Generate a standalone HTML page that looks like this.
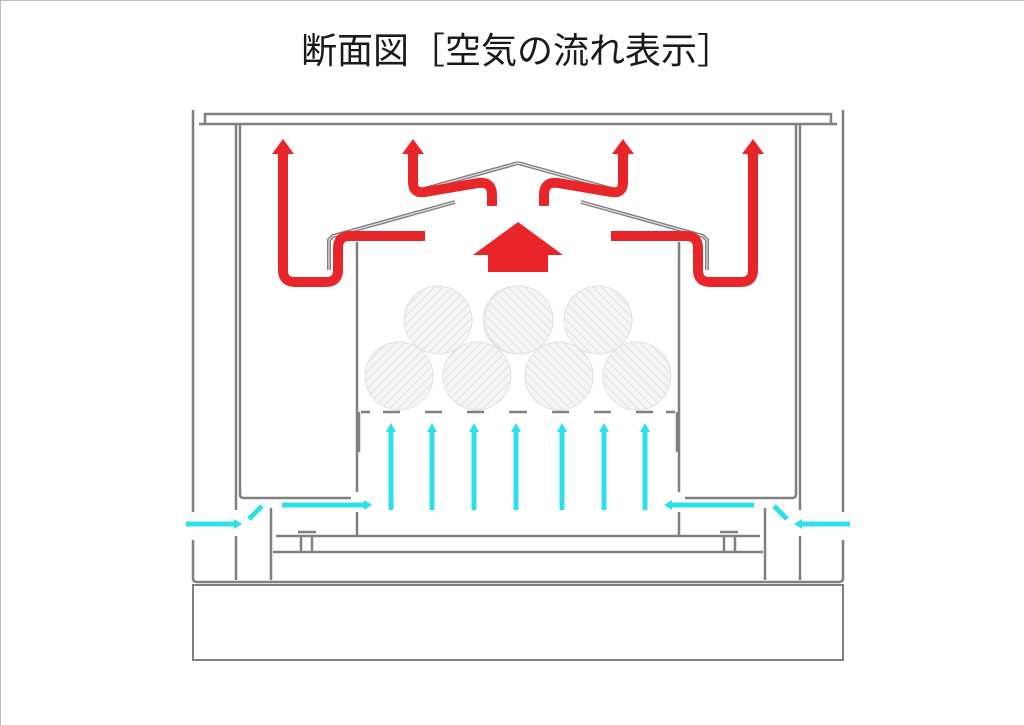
<!DOCTYPE html>
<html><head><meta charset="utf-8"><style>
html,body{margin:0;padding:0;background:#fff;}
svg{display:block}
</style></head><body>
<svg width="1024" height="725" viewBox="0 0 1024 725" xmlns="http://www.w3.org/2000/svg">
<defs>
<pattern id="h" width="6" height="6" patternUnits="userSpaceOnUse" patternTransform="rotate(45)">
<rect width="6" height="6" fill="#f4f4f4"/><line x1="0" y1="0" x2="0" y2="6" stroke="#dcdcdc" stroke-width="1.5"/>
</pattern>
<g id="half">
 <g fill="none" stroke="#808080" stroke-width="2.5">
  <path d="M193 110 V512"/>
  <path d="M193 540 V578 Q193 582 197 582 H518"/>
  <path d="M236 124 V510"/>
  <path d="M236 536 V580"/>
  <path d="M199 124 H518"/>
  <path d="M205 124 V114 H518"/>
  <path d="M240 124 V494 Q240 498 244 498 H351"/>
  <path d="M271 508 V580"/>
  <path d="M357 242 V492"/>
  <path d="M357 512 V535"/>
  <path d="M359 412 V452"/>
  <path d="M276 536 H518"/>
  <path d="M273 552 H518"/>
  <path d="M301 536 V552 M312 536 V552"/>
  <path d="M298 532 H316"/>
  <path d="M361 412 H370 M383 412 H400 M425 412 H442 M467 412 H484 M509 412 H518"/>
 </g>
 <g fill="none" stroke="#808080" stroke-width="4">
  <path d="M329 270 V240 L333 236 L455 202"/>
  <path d="M424 189 L518 163"/>
 </g>
 <g fill="none" stroke="#e0e0e0" stroke-width="1.2">
  <path d="M329 270 V240 L333 236 L455 202"/>
  <path d="M424 189 L518 163"/>
 </g>
 <g fill="url(#h)" stroke="#e2e2e2" stroke-width="1">
  <circle cx="438" cy="320" r="34"/><circle cx="517" cy="320" r="34"/>
  <circle cx="399" cy="376" r="34"/><circle cx="477" cy="376" r="34"/>
 </g>
 <g fill="none" stroke="#e8262a" stroke-width="10" stroke-linejoin="round">
  <path d="M283 152 V270 Q283 282 295 282 H326 Q338 282 338 270 V248 Q338 236 350 236 H425"/>
  <path d="M413 152 V182 Q413 194 425 192 L478 183 Q492 181 492 195 V206"/>
 </g>
 <g fill="#e8262a">
  <path d="M272 154 L283 139 L294 154 Z"/>
  <path d="M402 154 L413 139 L424 154 Z"/>
  <path d="M518 222 L473 255 L488 255 L488 272 L518 272 Z"/>
 </g>
 <g stroke="#2de0e8" stroke-width="5" fill="none">
  <path d="M186 524 H236"/>
  <path d="M249 519 L262 506"/>
  <path d="M282 505 H366"/>
  <path d="M391 510 V430 M432 510 V430 M474 510 V430"/>
 </g>
 <g fill="#2de0e8">
  <path d="M234 519 L242 524 L234 529 Z"/>
  <path d="M364 500 L372 505 L364 510 Z"/>
  <path d="M386 432 L391 423 L396 432 Z M427 432 L432 423 L437 432 Z M469 432 L474 423 L479 432 Z"/>
 </g>
</g>
</defs>
<rect x="0.5" y="0.5" width="1030" height="730" fill="none" stroke="#bbb"/>
<text x="517" y="63" text-anchor="middle" font-family="'Liberation Sans','Noto Sans CJK JP',sans-serif" font-size="36" fill="#1a1a1a">断面図［空気の流れ表示］</text>
<use href="#half"/>
<use href="#half" transform="translate(1036,0) scale(-1,1)"/>
<path d="M516 510 V430" stroke="#2de0e8" stroke-width="5"/>
<path d="M511 432 L516 423 L521 432 Z" fill="#2de0e8"/>
<rect x="193" y="585" width="650" height="75" fill="none" stroke="#808080" stroke-width="2"/>
</svg>
</body></html>
